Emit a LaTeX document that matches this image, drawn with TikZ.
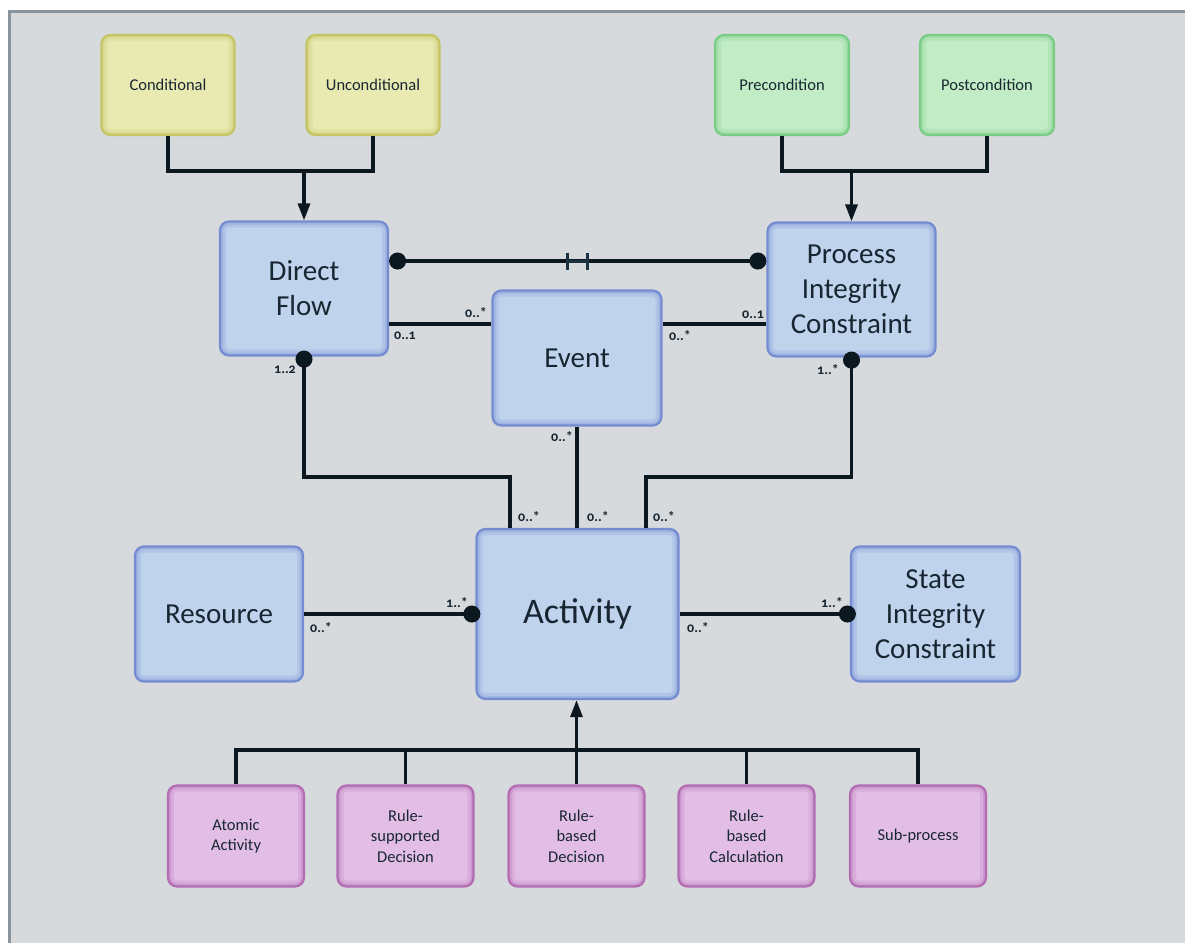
\documentclass[tikz,border=0pt]{standalone}
\usepackage{fontspec}
\setmainfont{Carlito}
\newfontfamily\multfont[Numbers=OldStyle]{Carlito}
\usetikzlibrary{arrows.meta}

\definecolor{panelbg}{RGB}{214,218,221}
\definecolor{paneledge}{RGB}{140,148,155}
\definecolor{ink}{RGB}{24,38,50}
\definecolor{wirecol}{RGB}{12,24,32}
\definecolor{barcol}{RGB}{26,50,66}
\definecolor{bluefill}{RGB}{191,211,237}
\definecolor{blueline}{RGB}{118,140,210}
\definecolor{yellowfill}{RGB}{233,233,178}
\definecolor{yellowline}{RGB}{196,196,98}
\definecolor{greenfill}{RGB}{193,236,197}
\definecolor{greenline}{RGB}{120,204,132}
\definecolor{pinkfill}{RGB}{226,190,230}
\definecolor{pinkline}{RGB}{178,108,178}

\tikzset{
  glow/.style={path picture={
    \draw[draw=#1, line width=12pt, opacity=.2, rounded corners=9pt]
      (path picture bounding box.south west) rectangle (path picture bounding box.north east);
    \draw[draw=#1, line width=6pt, opacity=.3, rounded corners=9pt]
      (path picture bounding box.south west) rectangle (path picture bounding box.north east);
  }},
  box/.style={rounded corners=9pt, line width=2.2pt, inner sep=0pt, align=center, text=ink},
  classbox/.style={box, fill=bluefill, draw=blueline, glow=blueline,
    minimum width=168, minimum height=134, font=\fontsize{29}{35}\selectfont},
  flowbox/.style={box, fill=yellowfill, draw=yellowline, glow=yellowline,
    minimum width=133, minimum height=100, font=\fontsize{16.5}{20}\selectfont},
  condbox/.style={box, fill=greenfill, draw=greenline, glow=greenline,
    minimum width=134, minimum height=100, font=\fontsize{16.5}{20}\selectfont},
  kindbox/.style={box, fill=pinkfill, draw=pinkline, glow=pinkline,
    minimum width=136, minimum height=101, font=\fontsize{16.5}{20.5}\selectfont},
  wire/.style={draw=wirecol, line width=3.2pt},
  dottip/.tip={Circle[length=17pt]},
  headtip/.tip={Triangle[length=17pt, width=12pt]},
  mult/.style={inner sep=0pt, text=ink, font=\multfont\bfseries\fontsize{14}{15}\selectfont},
  barmark/.style={draw=barcol, line width=3pt},
}

\begin{document}
\begin{tikzpicture}[x=1pt, y=-1pt]
  \useasboundingbox (0,0) rectangle (1185,943);

  % backdrop panel
  \fill[panelbg] (8,10) rectangle (1185,943);
  \draw[paneledge, line width=3pt] (9.5,943) -- (9.5,11.5) -- (1185,11.5);

  % flow kinds
  \node[flowbox] (cond)   at (168,85) {Conditional};
  \node[flowbox] (uncond) at (373,85) {Unconditional};

  % constraint kinds
  \node[condbox] (pre)  at (782,85) {Precondition};
  \node[condbox] (post) at (987,85) {Postcondition};

  % main classes
  \node[classbox] (df)    at (304,288.5) {Direct\\Flow};
  \node[classbox] (pic)   at (851.5,289.5) {Process\\Integrity\\Constraint};
  \node[classbox, minimum width=169, minimum height=135] (event) at (577,358) {Event};
  \node[classbox, minimum width=202, minimum height=170, font=\fontsize{36}{40}\selectfont] (act) at (577.5,614) {Activity};
  \node[classbox, minimum height=135] (res) at (219,614) {Resource};
  \node[classbox, minimum width=169, minimum height=135] (sic) at (935.5,614) {State\\Integrity\\Constraint};

  % activity kinds
  \node[kindbox] (atomic) at (236,836)   {Atomic\\Activity};
  \node[kindbox] (rsd)    at (405.5,836) {Rule-\\supported\\Decision};
  \node[kindbox] (rbd)    at (576.5,836) {Rule-\\based\\Decision};
  \node[kindbox] (rbc)    at (746.5,836) {Rule-\\based\\Calculation};
  \node[kindbox] (sub)    at (918,836)   {Sub-process};

  % junction points
  \coordinate (jflow) at (304,171);
  \coordinate (jcons) at (851.5,171);
  \coordinate (lvlA)  at (0,261);
  \coordinate (lvlB)  at (0,324);
  \coordinate (kdf)   at (510,477);
  \coordinate (kpic)  at (646,477);
  \coordinate (bus)   at (576.5,750);

  % generalisations into Direct Flow and Process Integrity Constraint
  \draw[wire] (cond.south) |- (jflow) -| (uncond.south);
  \draw[wire, -{headtip}] (jflow) -- (df.north);
  \draw[wire] (pre.south) |- (jcons) -| (post.south);
  \draw[wire, -{headtip}] (jcons) -- (pic.north);

  % Direct Flow -- Process Integrity Constraint
  \draw[wire, {dottip}-{dottip}] (df.east |- lvlA) -- (pic.west |- lvlA)
    coordinate[pos=0.5] (barmid);
  \draw[barmark] ([xshift=-10pt]barmid) -- ([xshift=10pt]barmid);
  \draw[barmark] ([xshift=-10pt,yshift=-8.5pt]barmid) -- ([xshift=-10pt,yshift=8.5pt]barmid);
  \draw[barmark] ([xshift=10pt,yshift=-8.5pt]barmid) -- ([xshift=10pt,yshift=8.5pt]barmid);

  % Event associations
  \draw[wire] (df.east |- lvlB) -- (event.west |- lvlB);
  \draw[wire] (event.east |- lvlB) -- (pic.west |- lvlB);
  \draw[wire] (event.south) -- (act.north -| event.south);

  % associations into Activity
  \draw[wire, {dottip}-, shorten <=-6pt] (df.south) |- (kdf) -- (act.north -| kdf);
  \draw[wire, {dottip}-, shorten <=-6pt] (pic.south) |- (kpic) -- (act.north -| kpic);
  \draw[wire, -{dottip}, shorten >=-5pt] (res.east) -- (act.west);
  \draw[wire, -{dottip}, shorten >=-6pt] (act.east) -- (sic.west);

  % specialisations of Activity
  \draw[wire] (atomic.north) |- (bus) -| (sub.north);
  \draw[wire] (rsd.north) -- (rsd.north |- bus);
  \draw[wire] (rbc.north) -- (rbc.north |- bus);
  \draw[wire, -{headtip}] (rbd.north) -- (rbd.north |- act.south);

  % multiplicities
  \node[mult] (m1)  at (405,336) {0..1};
  \node[mult] (m2)  at (476,313) {0..*};
  \node[mult] (m3)  at (680,336) {0..*};
  \node[mult] (m4)  at (753,315) {0..1};
  \node[mult] (m5)  at (285,370) {1..2};
  \node[mult] (m6)  at (828,370) {1..*};
  \node[mult] (m7)  at (562,437) {0..*};
  \node[mult] (m8)  at (529,517) {0..*};
  \node[mult] (m9)  at (598,517) {0..*};
  \node[mult] (m10) at (664,517) {0..*};
  \node[mult] (m11) at (321,628) {0..*};
  \node[mult] (m12) at (457,603) {1..*};
  \node[mult] (m13) at (698,628) {0..*};
  \node[mult] (m14) at (832,603) {1..*};
\end{tikzpicture}
\end{document}
